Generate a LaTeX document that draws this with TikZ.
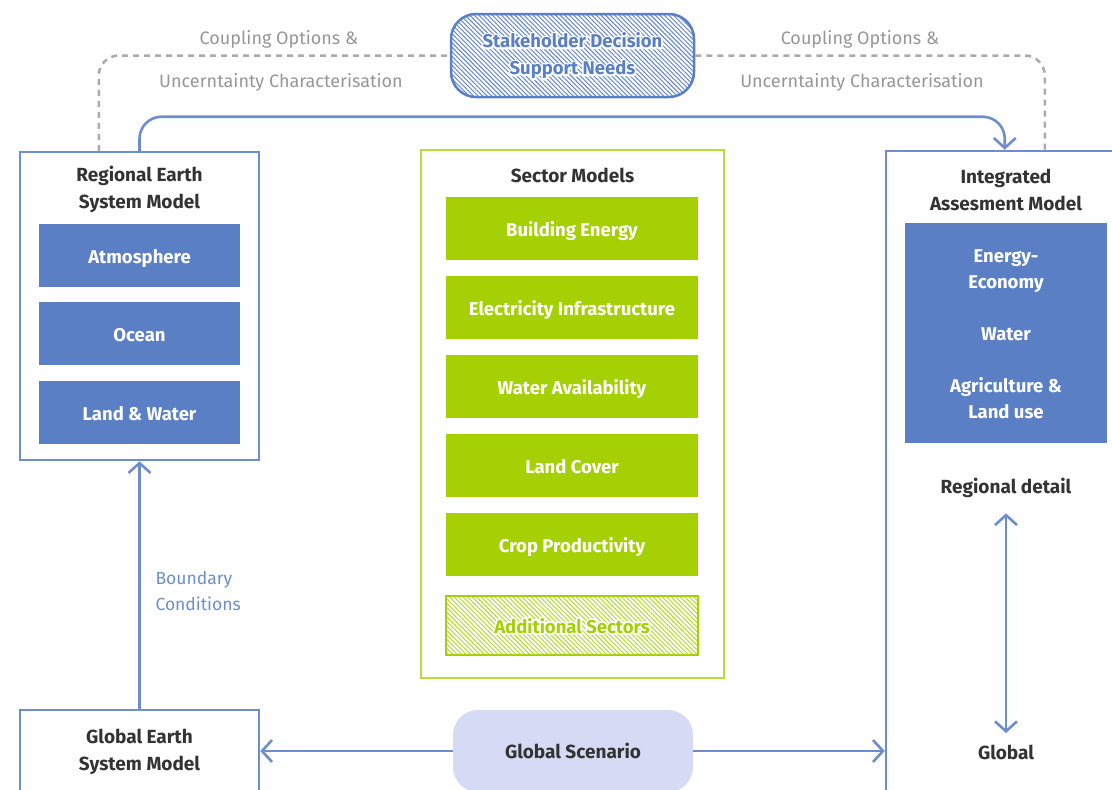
\documentclass[tikz,border=0pt]{standalone}
\usepackage{fontspec}
\setmainfont{Fira Sans}
\usetikzlibrary{arrows.meta,patterns.meta}

\definecolor{modblue}{RGB}{90,127,196}
\definecolor{lineblue}{RGB}{110,141,207}
\definecolor{secgreen}{RGB}{164,208,4}
\definecolor{boxgreen}{RGB}{184,220,64}
\definecolor{lavender}{RGB}{213,218,245}
\definecolor{titlegray}{RGB}{51,51,51}
\definecolor{dashgray}{RGB}{170,170,170}
\definecolor{labelgray}{RGB}{150,150,150}

% white halo behind text on hatching
\newcommand\halotext[1]{\leavevmode\rlap{\color{white}\special{pdf:literal direct 2 Tr 3.4 w 1 j}#1\special{pdf:literal direct 0 Tr}}#1}

\tikzset{outer/.style={draw=lineblue,line width=2.5pt,fill=white,inner sep=0pt}}
\tikzset{title/.style={align=center,text=titlegray,font=\bfseries\fontsize{19}{27}\selectfont}}
\tikzset{module/.style={fill=modblue,text=white,inner sep=0pt,minimum width=201,minimum height=63,text height=15pt,text depth=0pt,font=\bfseries\fontsize{18.5}{26}\selectfont}}
\tikzset{sector/.style={module,fill=secgreen,minimum width=252}}
\tikzset{hatched/.style={pattern={Lines[angle=-45,distance=3.2pt,line width=1.1pt]}}}
\tikzset{flow/.style={draw=lineblue,line width=2.6pt}}
\tikzset{coupling/.style={draw=dashgray,line width=2.5pt,dash pattern=on 6pt off 5pt}}
\tikzset{couplabel/.style={text=labelgray,font=\fontsize{18}{20}\selectfont}}

\begin{document}
\begin{tikzpicture}[x=1pt, y=-1pt, >={Straight Barb[length=10pt,width=22pt]}]

  \useasboundingbox (0,0) rectangle (1112,790);

  % model boxes
  \node [outer, minimum width=239, minimum height=308] (resm) at (139.5,306) {};
  \node [outer, minimum width=239, minimum height=100] (gesm) at (139.5,760) {};
  \node [outer, minimum width=254, minimum height=659] (iam) at (1013,480.5) {};
  \node [outer, draw=boxgreen, minimum width=303, minimum height=528] (secm) at (572.5,414) {};

  % titles
  \node [title] (resm-title) at (139.5,189.5) {Regional Earth\\System Model};
  \node [title] (gesm-title) at (139.5,752) {Global Earth\\System Model};
  \node [title] (iam-title) at (1006,189.5) {Integrated\\Assesment Model};
  \node [title] (secm-title) at (572.5,175) {Sector Models};

  % earth system components
  \foreach \l/\y [count=\i] in {Atmosphere/255.5, Ocean/333.5, Land \& Water/412.5}
    \node [module] (resm-\i) at (139.5,\y) {\l};

  % sectors
  \foreach \l [count=\i] in {Building Energy, Electricity Infrastructure, Water Availability, Land Cover, Crop Productivity}
    \node [sector] (sector-\i) at (572,149.5+79*\i) {\l};
  \node [sector, fill=none, draw=secgreen, line width=2pt, minimum height=59, text=secgreen,
    hatched, pattern color=boxgreen]
    (sector-6) at (572,625.5) {\halotext{Additional Sectors}};

  % iam components
  \node [module, minimum width=202, minimum height=220, align=center, text height=, text depth=] (iam-mods) at (1006,333)
    {\rule{0pt}{16pt}Energy-\\Economy\\[26pt]Water\\[26pt]Agriculture \&\\Land use};
  \node [title] (regdet) at (1006,488) {Regional detail};
  \node [title] (glob) at (1006,752) {Global};

  % stakeholder and scenario
  \node [draw=modblue, line width=2.5pt, rounded corners=25pt, minimum width=243, minimum height=83,
    hatched, pattern color=lineblue,
    align=center, text=modblue, font=\bfseries\fontsize{18.5}{27}\selectfont]
    (sdsn) at (572.5,55.5) {\rule{0pt}{15.5pt}\halotext{Stakeholder Decision}\\\halotext{Support Needs}};
  \node [fill=lavender, rounded corners=25pt, minimum width=240, minimum height=82, title]
    (gs) at (573,751) {Global Scenario};

  % coupling options
  \draw [coupling, rounded corners=20pt] ([xshift=80pt]resm.north west) |- (sdsn.west);
  \draw [coupling, rounded corners=20pt] (sdsn.east) -| ([xshift=160pt]iam.north west);
  \foreach \x/\s in {279/0, 860/581} {
    \node [couplabel] (cl-a-\s) at (\x,39) {Coupling Options \&};
    \node [couplabel] (cl-b-\s) at (\x+2,82) {Uncerntainty Characterisation};
  }

  % regional model -> iam
  \draw [flow, ->, rounded corners=22pt] (resm.north) -- ++(0,-34) -| ([xshift=120pt]iam.north west);

  % boundary conditions
  \draw [flow, ->] (gesm) -- (resm);
  \node [anchor=west, align=left, text=lineblue, font=\fontsize{17.5}{26}\selectfont] (bc) at (152,591) {Boundary\\Conditions};

  % global scenario -> models
  \draw [flow, ->] (gs.west) -- (gs.west -| gesm.east);
  \draw [flow, ->] (gs.east) -- (gs.east -| iam.west);

  % regional <-> global
  \draw [flow, <->, shorten <=12pt, shorten >=8pt] (regdet) -- (glob);

\end{tikzpicture}
\end{document}
